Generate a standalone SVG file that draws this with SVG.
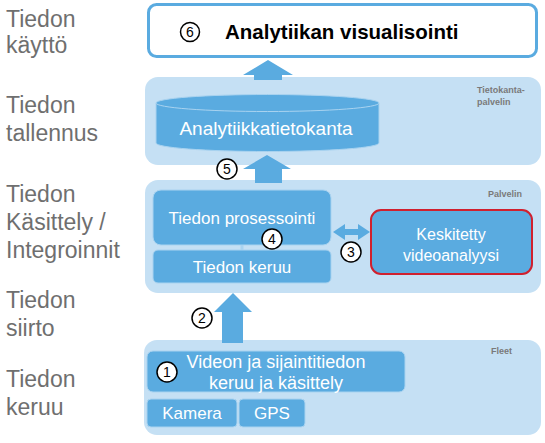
<svg xmlns="http://www.w3.org/2000/svg" width="545" height="443" viewBox="0 0 545 443">
<style>
.lbl{font-family:"Liberation Sans",Arial,sans-serif;font-size:23px;fill:#6f6f6f}
.band{fill:#c5e0f4}
.box{fill:#5aabe0;stroke:#a9d3f0;stroke-width:1}
.wt{font-family:"Liberation Sans",Arial,sans-serif;fill:#ffffff;text-anchor:middle}
.tag{font-family:"Liberation Sans",Arial,sans-serif;font-size:9px;font-weight:bold;fill:#7a7a7a}
.num circle{fill:#ffffff;stroke:#000;stroke-width:1.5}
.num text{font-family:"Liberation Sans",Arial,sans-serif;font-size:14px;fill:#000;text-anchor:middle}
.arr{fill:#5aabe0}
</style>
<g id="labels">
<text class="lbl" x="6" y="27">Tiedon</text>
<text class="lbl" x="6" y="53">käyttö</text>
<text class="lbl" x="6" y="113">Tiedon</text>
<text class="lbl" x="6" y="141">tallennus</text>
<text class="lbl" x="6" y="202">Tiedon</text>
<text class="lbl" x="6" y="230">Käsittely /</text>
<text class="lbl" x="6" y="258">Integroinnit</text>
<text class="lbl" x="6" y="308">Tiedon</text>
<text class="lbl" x="6" y="336">siirto</text>
<text class="lbl" x="6" y="387">Tiedon</text>
<text class="lbl" x="6" y="415">keruu</text>
</g>
<g id="band-db">
<rect class="band" x="145" y="77" width="396" height="88" rx="13"/>
<text class="tag" x="477" y="93">Tietokanta-</text>
<text class="tag" x="477" y="105">palvelin</text>
</g>
<g id="band-server">
<rect class="band" x="145" y="180" width="396" height="113" rx="13"/>
<text class="tag" x="488" y="197">Palvelin</text>
</g>
<g id="band-fleet">
<rect class="band" x="144" y="340" width="397" height="95" rx="13"/>
<text class="tag" x="491" y="354">Fleet</text>
</g>
<g id="connectors">
<polygon class="arr" points="268,60 293,75 282,75 282,80 254,80 254,75 243,75"/>
<polygon class="arr" points="267,155 291,169 282,169 282,183 255,183 255,169 243,169"/>
<polygon class="arr" points="233,293 252,312 243,312 243,343 222,343 222,312 214,312"/>
<polygon class="arr" points="333,232 345,224 345,229 358,229 358,224 370,232 358,240 358,235 345,235 345,240"/>
<rect x="240.5" y="244" width="3" height="7" fill="#a9d3f0"/>
</g>
<g id="n6">
<rect x="148.5" y="4.5" width="388" height="52" rx="8" fill="#ffffff" stroke="#5aabe0" stroke-width="3"/>
<g class="num"><circle cx="190" cy="32" r="9.5"/><text x="190" y="37">6</text></g>
<text x="225" y="39" font-family="'Liberation Sans',Arial,sans-serif" font-size="20.5" font-weight="bold" fill="#000">Analytiikan visualisointi</text>
</g>
<g id="db">
<path d="M156,103 L156,143 A111.5,8.5 0 0 0 379,143 L379,103 Z" fill="#5aabe0" stroke="#a9d3f0" stroke-width="1"/>
<ellipse cx="267.5" cy="103" rx="111.5" ry="8.5" fill="#5aabe0" stroke="#a9d3f0" stroke-width="1"/>
<text class="wt" x="266" y="135" font-size="19">Analytiikkatietokanta</text>
</g>
<g id="n5" class="num"><circle cx="227" cy="169" r="10"/><text x="227" y="174">5</text></g>
<g id="proc">
<rect class="box" x="153" y="190" width="178" height="55" rx="8"/>
<text class="wt" x="242" y="224" font-size="17">Tiedon prosessointi</text>
</g>
<g id="keruu">
<rect class="box" x="153" y="250" width="178" height="33" rx="5"/>
<text class="wt" x="242" y="273" font-size="17">Tiedon keruu</text>
</g>
<g id="n4" class="num"><circle cx="272" cy="239" r="10"/><text x="272" y="244">4</text></g>
<g id="n3" class="num"><circle cx="351" cy="252" r="10"/><text x="351" y="257">3</text></g>
<g id="video">
<rect x="371" y="210" width="161" height="64" rx="10" fill="#5aabe0" stroke="#d0202e" stroke-width="2"/>
<text class="wt" x="451" y="240" font-size="16">Keskitetty</text>
<text class="wt" x="451" y="261" font-size="16">videoanalyysi</text>
</g>
<g id="n2" class="num"><circle cx="202" cy="318" r="10"/><text x="202" y="323">2</text></g>
<g id="fleetbox">
<rect class="box" x="147" y="351" width="258" height="41" rx="6"/>
<text class="wt" x="276" y="368" font-size="18">Videon ja sijaintitiedon</text>
<text class="wt" x="276" y="389" font-size="18">keruu ja käsittely</text>
</g>
<g id="n1" class="num"><circle cx="167" cy="372" r="10"/><text x="167" y="377">1</text></g>
<g id="kamera">
<rect class="box" x="147" y="399" width="90" height="28" rx="4"/>
<text class="wt" x="192" y="419" font-size="17">Kamera</text>
</g>
<g id="gps">
<rect class="box" x="239" y="399" width="66" height="28" rx="4"/>
<text class="wt" x="272" y="419" font-size="17">GPS</text>
</g>
</svg>
